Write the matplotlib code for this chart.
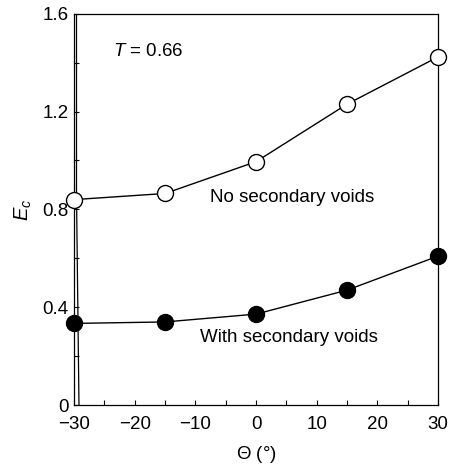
import matplotlib
matplotlib.use("Agg")
from matplotlib import pyplot as plt
from matplotlib.ticker import MultipleLocator

plt.rcParams['font.family'] = ['Liberation Sans', 'DejaVu Sans']
plt.rcParams['mathtext.fontset'] = 'custom'
plt.rcParams['mathtext.rm'] = 'Liberation Sans'
plt.rcParams['mathtext.it'] = 'Liberation Sans:italic'

# data
theta = [-30, -15, 0, 15, 30]
ec_no_voids = [0.84, 0.865, 0.995, 1.23, 1.423]
ec_with_voids = [0.334, 0.34, 0.372, 0.47, 0.609]

# near-vertical stray strokes at the left edge of the original plot
spike_up_x = [-29.7, -29.7]
spike_up_y = [1.6, 0.84]
spike_down_x = [-29.6, -29.2]
spike_down_y = [0.84, 0.0]

FS = 13.5

fig = plt.figure(figsize=(4.52, 4.70), dpi=100)
ax = fig.add_axes([0.164, 0.138, 0.805, 0.833])

ax.plot(spike_up_x, spike_up_y, color='black', lw=0.9)
ax.plot(spike_down_x, spike_down_y, color='black', lw=0.9)

ax.plot(theta, ec_no_voids, '-o', color='black', lw=1.0, ms=11.5,
        mfc='white', mec='black', mew=1.0, clip_on=False, zorder=3)
ax.plot(theta, ec_with_voids, '-o', color='black', lw=1.0, ms=11.5,
        mfc='black', mec='black', mew=1.0, clip_on=False, zorder=3)

ax.text(-23.6, 1.444, r'$T$ = 0.66', fontsize=FS, va='center', ha='left')
ax.text(-7.6, 0.85, 'No secondary voids', fontsize=FS, va='center', ha='left')
ax.text(-9.3, 0.278, 'With secondary voids', fontsize=FS, va='center', ha='left')

ax.set_xlim(-30, 30)
ax.set_ylim(0, 1.6)
ax.xaxis.set_major_locator(MultipleLocator(10))
ax.xaxis.set_minor_locator(MultipleLocator(5))
ax.yaxis.set_minor_locator(MultipleLocator(0.2))
ax.set_yticks([0, 0.4, 0.8, 1.2, 1.6])
ax.set_yticklabels(['0', '0.4', '0.8', '1.2', '1.6'])
ax.tick_params(which='both', direction='in', length=3.8, width=0.8,
               top=False, right=False, labelsize=FS)
ax.tick_params(axis='x', pad=8)
ax.tick_params(axis='y', pad=4)

ax.set_xlabel(r'$\mathit{\Theta}$ (°)', fontsize=FS, labelpad=8)
ax.set_ylabel(r'$E_c$', fontsize=FS + 1, labelpad=6)

for s in ax.spines.values():
    s.set_linewidth(0.9)

fig.savefig('out.png', dpi=100)
